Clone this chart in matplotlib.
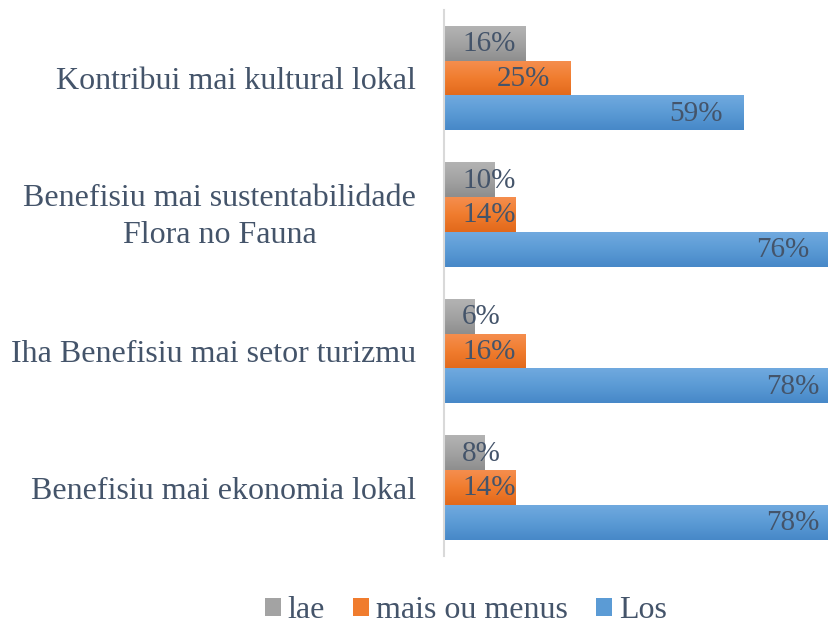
import matplotlib
matplotlib.use("Agg")
import matplotlib.pyplot as plt
import matplotlib.transforms as mtransforms
import numpy as np
from matplotlib.colors import LinearSegmentedColormap
from matplotlib.patches import Patch

categories = ["Benefisiu mai ekonomia lokal",
              "Iha Benefisiu mai setor turizmu",
              "Benefisiu mai sustentabilidade\nFlora no Fauna",
              "Kontribui mai kultural lokal"]
series_names = ["lae", "mais ou menus", "Los"]
lae = [8, 6, 10, 16]
mais_ou_menus = [14, 16, 14, 25]
los = [78, 78, 76, 59]

colors = {"lae": ("#B3B3B3", "#A3A3A3", "#8E8E8E"),
          "mais ou menus": ("#F58E4E", "#F07C2E", "#E2691B"),
          "Los": ("#70A9DF", "#5B9BD5", "#4788C8")}
text_color = "#44546A"
plt.rcParams['font.family'] = ['Liberation Serif', 'DejaVu Serif']

W, H, DPI = 829, 626, 100
fig = plt.figure(figsize=(W / DPI, H / DPI), dpi=DPI)
px_per_pct = 5.08
xmax = 90
ax_left = 444 / W
ax_w = xmax * px_per_pct / W
ax_top = 10
ax_bot = 556
ax = fig.add_axes([ax_left, 1 - ax_bot / H, ax_w, (ax_bot - ax_top) / H])

y = np.arange(len(categories))
h = 0.2535
data = [(series_names[0], lae, +h), (series_names[1], mais_ou_menus, 0.0), (series_names[2], los, -h)]

for name, vals, off in data:
    top_c, mid_c, bot_c = colors[name]
    cmap = LinearSegmentedColormap.from_list(name, [top_c, mid_c, bot_c])
    bars = ax.barh(y + off, vals, height=h, color=mid_c, linewidth=0, zorder=2)
    for rect, v in zip(bars, vals):
        x0, y0 = rect.get_x(), rect.get_y()
        ww, hh = rect.get_width(), rect.get_height()
        grad = np.linspace(0, 1, 64).reshape(-1, 1)
        ax.imshow(grad, extent=(x0, x0 + ww, y0, y0 + hh), aspect='auto',
                  cmap=cmap, origin='upper', zorder=2.5, interpolation='bilinear')
        if v >= 20:
            ax.annotate(f"{v}%", xy=(v, y0 + hh / 2), xytext=(-15.1, -0.5),
                        textcoords='offset points', ha='right', va='center',
                        fontsize=21, color=text_color, zorder=4)
        else:
            ax.annotate(f"{v}%", xy=(0, y0 + hh / 2), xytext=(13, -0.5),
                        textcoords='offset points', ha='left', va='center',
                        fontsize=21, color=text_color, zorder=4)

ax.set_xlim(0, xmax)
ax.set_ylim(-0.5, len(categories) - 0.5)
ax.set_yticks(y)
ax.set_yticklabels(categories, fontsize=23, color=text_color, multialignment='center',
                   linespacing=1.33)
ax.tick_params(axis='y', length=0, pad=20)
ax.set_xticks([])
for lbl in ax.get_yticklabels():
    if "\n" in lbl.get_text():
        lbl.set_transform(lbl.get_transform() +
                          mtransforms.ScaledTranslation(0, 5 / DPI, fig.dpi_scale_trans))
for s in ["top", "right", "bottom"]:
    ax.spines[s].set_visible(False)
ax.spines["left"].set_color("#D9D9D9")
ax.spines["left"].set_linewidth(1.5)
ax.spines["left"].set_zorder(5)

handles = [Patch(facecolor=colors[n][1], edgecolor='none') for n in series_names]
leg = fig.legend(handles, series_names, loc='center', bbox_to_anchor=(466 / W, 1 - 611 / H),
                 ncol=3, frameon=False, fontsize=23, handlelength=0.5, handleheight=0.5,
                 handletextpad=0.22, columnspacing=0.88, borderaxespad=0)
for t in leg.get_texts():
    t.set_color(text_color)

fig.savefig("out.png", dpi=DPI)
